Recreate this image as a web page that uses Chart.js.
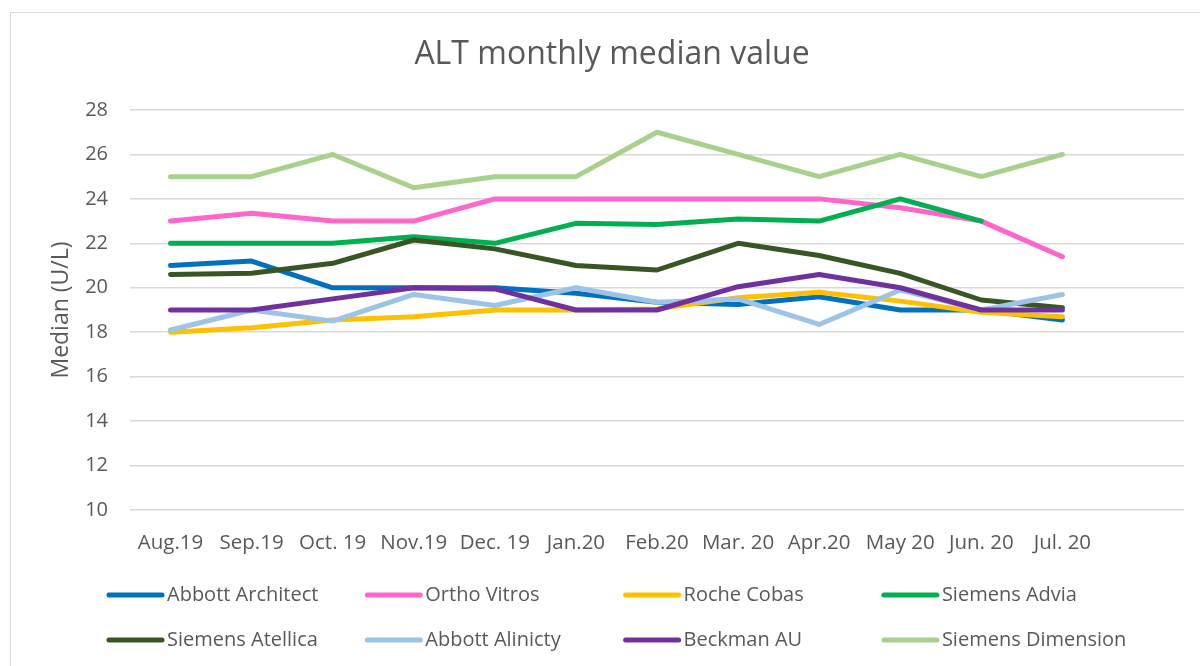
<!DOCTYPE html>
<html>
<head>
<meta charset="utf-8">
<script src="https://cdn.jsdelivr.net/npm/chart.js@4"></script>
<style>
  html, body { margin: 0; padding: 0; background: #fff; }
  #wrap { width: 1200px; height: 666px; position: relative; }
</style>
</head>
<body>
<div id="wrap"><canvas id="chartCanvas" width="1200" height="666"></canvas></div>
<script>
// last label left empty: Excel leaves one blank slot at the right end
const months = ['Aug.19', 'Sep.19', 'Oct. 19', 'Nov.19', 'Dec. 19', 'Jan.20', 'Feb.20', 'Mar. 20', 'Apr.20', 'May 20', 'Jun. 20', 'Jul. 20', ''];

const seriesNames = ['Abbott Architect', 'Ortho Vitros', 'Roche Cobas', 'Siemens Advia',
  'Siemens Atellica', 'Abbott Alinicty', 'Beckman AU', 'Siemens Dimension'];

const abbottArchitect = [21, 21.2, 20, 20, 20, 19.75, 19.35, 19.25, 19.6, 19, 19, 18.55];
const orthoVitros = [23, 23.35, 23, 23, 24, 24, 24, 24, 24, 23.6, 23, 21.4];
const rocheCobas = [18, 18.2, 18.55, 18.7, 19, 19, 19.05, 19.55, 19.8, 19.4, 18.9, 18.7];
const siemensAdvia = [22, 22, 22, 22.3, 22, 22.9, 22.85, 23.1, 23, 24, 23, null];
const siemensAtellica = [20.6, 20.65, 21.1, 22.15, 21.75, 21, 20.8, 22, 21.45, 20.65, 19.45, 19.1];
const abbottAlinicty = [18.1, 19, 18.5, 19.7, 19.2, 20, 19.35, 19.5, 18.35, 19.9, 19, 19.7];
const beckmanAU = [19, 19, 19.5, 20, 19.95, 19, 19, 20.05, 20.6, 20, 19, 19];
const siemensDimension = [25, 25, 26, 24.5, 25, 25, 27, 26, 25, 26, 25, 26];

const seriesValues = [abbottArchitect, orthoVitros, rocheCobas, siemensAdvia,
  siemensAtellica, abbottAlinicty, beckmanAU, siemensDimension];
const seriesColors = ['#0070C0', '#FF66CC', '#FFC000', '#00B050',
  '#375623', '#9DC3E6', '#7030A0', '#A9D18E'];

const yTicks = [10, 12, 14, 16, 18, 20, 22, 24, 26, 28];

const FONT = "'Open Sans', sans-serif";
const TEXT = '#595959';

// legend + frame drawn by hand so it sits in 4 even columns like Excel
const excelBits = {
  id: 'excelBits',
  beforeDraw(chart) {
    const ctx = chart.ctx;
    ctx.save();
    ctx.strokeStyle = '#D9D9D9';
    ctx.lineWidth = 1;
    ctx.strokeRect(10.5, 12.5, 1400, 900);
    ctx.restore();
  },
  afterDraw(chart) {
    const ctx = chart.ctx;
    ctx.save();
    ctx.font = '20px ' + FONT;
    ctx.textBaseline = 'middle';
    ctx.fillStyle = TEXT;
    ctx.lineCap = 'round';
    chart.data.datasets.forEach((ds, i) => {
      const col = i % 4, row = Math.floor(i / 4);
      const x = 109 + col * 258.3;
      const y = 595 + row * 45;
      ctx.strokeStyle = ds.borderColor;
      ctx.lineWidth = 5;
      ctx.beginPath();
      ctx.moveTo(x, y);
      ctx.lineTo(x + 53, y);
      ctx.stroke();
      ctx.fillText(ds.label, x + 58, y);
    });
    ctx.restore();
  }
};

const datasets = seriesNames.map((name, i) => ({
  label: name,
  data: seriesValues[i],
  borderColor: seriesColors[i],
  backgroundColor: seriesColors[i],
  borderWidth: 5,
  borderCapStyle: 'round',
  borderJoinStyle: 'round',
  pointRadius: 0,
  fill: false,
  tension: 0,
  order: seriesNames.length - i
}));

const ctx = document.getElementById('chartCanvas').getContext('2d');
const chart = new Chart(ctx, {
  type: 'line',
  data: { labels: months, datasets: datasets },
  options: {
    responsive: false,
    animation: false,
    layout: { padding: { left: 40, right: 16, top: 0, bottom: 106 } },
    plugins: {
      legend: { display: false },
      tooltip: { enabled: false },
      title: {
        display: true,
        text: 'ALT monthly median value',
        color: TEXT,
        font: { family: FONT, size: 32, weight: 'normal', lineHeight: 1.2 },
        padding: { top: 36, bottom: 35.6 }
      }
    },
    scales: {
      x: {
        offset: true,
        grid: { display: false, drawTicks: false },
        border: { display: false },
        ticks: {
          color: TEXT,
          font: { family: FONT, size: 20.5 },
          padding: 21,
          maxRotation: 0,
          autoSkip: false
        },
        afterFit(scale) { scale.height = 50; }
      },
      y: {
        min: 10,
        max: 28,
        afterBuildTicks(scale) { scale.ticks = yTicks.map(v => ({ value: v })); },
        grid: { color: '#D9D9D9', lineWidth: 1.5, drawTicks: false },
        border: { display: false },
        ticks: {
          color: TEXT,
          font: { family: FONT, size: 20 },
          padding: 22
        },
        title: {
          display: true,
          text: 'Median (U/L)',
          color: TEXT,
          font: { family: FONT, size: 23, lineHeight: 1.2 },
          padding: { top: 8, bottom: 0 }
        },
        afterFit(scale) { scale.width = 90; }
      }
    }
  },
  plugins: [excelBits]
});
</script>
</body>
</html>
